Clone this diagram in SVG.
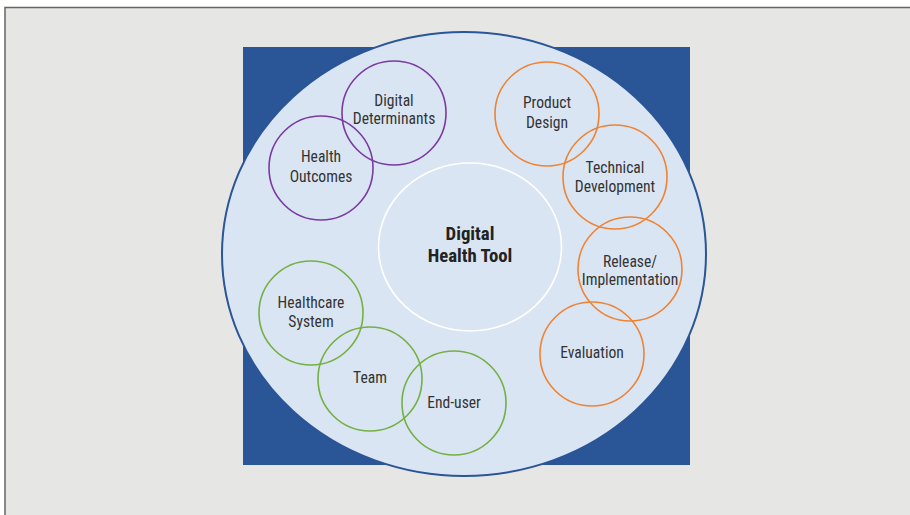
<svg xmlns="http://www.w3.org/2000/svg" width="910" height="515" viewBox="0 0 910 515">
  <style>
    .lbl { font-family: "Liberation Sans Narrow", "Roboto Condensed", "Liberation Sans", Arial, sans-serif; font-size: 15.6px; fill: #333333; text-anchor: middle; }
    .core { font-family: "Liberation Sans Narrow", "Roboto Condensed", "Liberation Sans", Arial, sans-serif; font-size: 18.8px; font-weight: bold; fill: #222222; text-anchor: middle; }
    .ring { fill: none; stroke-width: 1.6; }
    .purple { stroke: #7a3aa2; }
    .orange { stroke: #ef8333; }
    .green { stroke: #74b043; }
  </style>
  <rect x="0" y="0" width="910" height="515" fill="#ffffff"/>
  <rect x="5" y="7.5" width="920" height="520" fill="#e6e6e5" stroke="#666666" stroke-width="1.5"/>
  <!-- backdrop square and big ellipse -->
  <rect x="243" y="47" width="447" height="418" fill="#2a5597"/>
  <ellipse cx="464" cy="254" rx="242" ry="222" fill="#dae5f3" stroke="#2a5597" stroke-width="2"/>
  <g id="core">
    <ellipse cx="470" cy="247" rx="91.5" ry="84" fill="none" stroke="#ffffff" stroke-width="1.6"/>
    <text class="core" x="470" y="240">Digital</text>
    <text class="core" x="470" y="262">Health Tool</text>
  </g>
  <g id="digital-determinants">
    <circle class="ring purple" cx="394" cy="113" r="52"/>
    <text class="lbl" x="394" y="106">Digital</text>
    <text class="lbl" x="394" y="124">Determinants</text>
  </g>
  <g id="health-outcomes">
    <circle class="ring purple" cx="321" cy="168" r="52"/>
    <text class="lbl" x="321" y="162">Health</text>
    <text class="lbl" x="321" y="182">Outcomes</text>
  </g>
  <g id="product-design">
    <circle class="ring orange" cx="547" cy="114" r="52"/>
    <text class="lbl" x="547" y="108">Product</text>
    <text class="lbl" x="547" y="128">Design</text>
  </g>
  <g id="technical-development">
    <circle class="ring orange" cx="615" cy="177" r="52"/>
    <text class="lbl" x="615" y="173">Technical</text>
    <text class="lbl" x="615" y="192">Development</text>
  </g>
  <g id="release-implementation">
    <circle class="ring orange" cx="630" cy="269" r="52"/>
    <text class="lbl" x="630" y="267">Release/</text>
    <text class="lbl" x="630" y="285">Implementation</text>
  </g>
  <g id="evaluation">
    <circle class="ring orange" cx="592" cy="354" r="52"/>
    <text class="lbl" x="592" y="358">Evaluation</text>
  </g>
  <g id="healthcare-system">
    <circle class="ring green" cx="311" cy="313" r="52"/>
    <text class="lbl" x="311" y="308">Healthcare</text>
    <text class="lbl" x="311" y="327">System</text>
  </g>
  <g id="team">
    <circle class="ring green" cx="370" cy="379" r="52"/>
    <text class="lbl" x="370" y="383">Team</text>
  </g>
  <g id="end-user">
    <circle class="ring green" cx="454" cy="403" r="52"/>
    <text class="lbl" x="454" y="408">End-user</text>
  </g>
  <g id="connectors"/>
</svg>
